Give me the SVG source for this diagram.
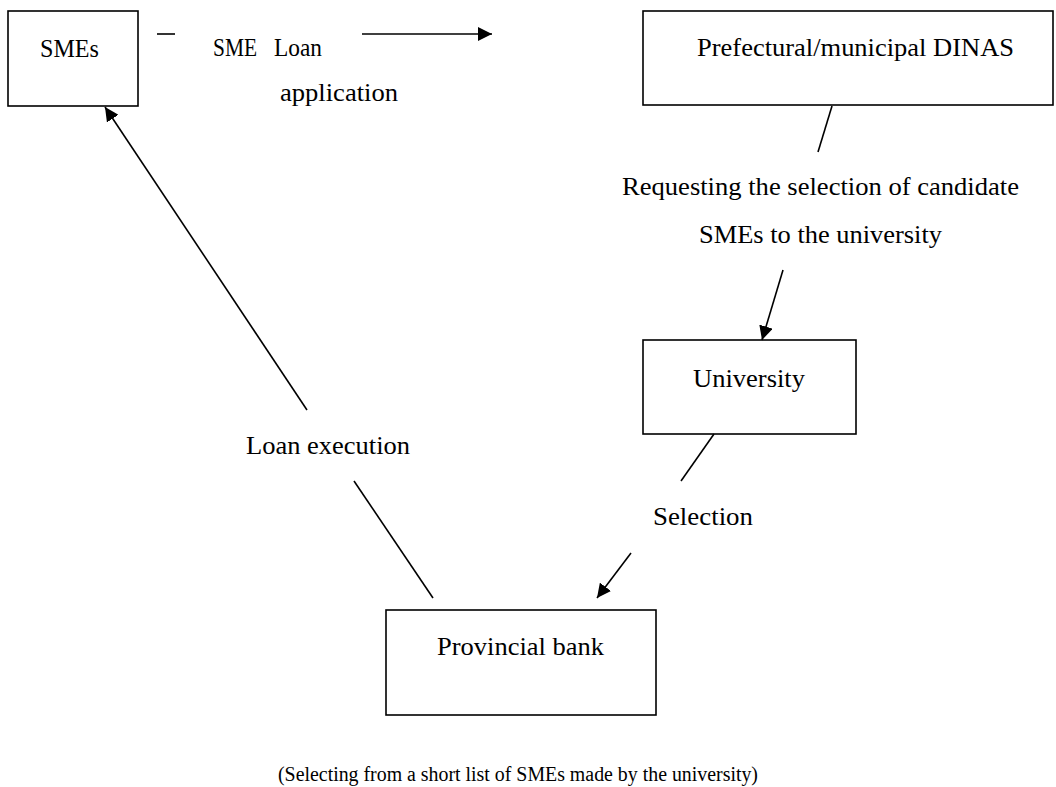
<svg xmlns="http://www.w3.org/2000/svg" width="1056" height="787" viewBox="0 0 1056 787">
  <style>
    .box { fill: #fff; stroke: #000; stroke-width: 1.6; }
    .lbl { font-family: "Liberation Serif", "Times New Roman", serif; font-size: 26px; fill: #000; }
    .cap { font-family: "Liberation Serif", "Times New Roman", serif; font-size: 20px; fill: #000; }
    .ln { stroke: #000; stroke-width: 1.6; fill: none; }
  </style>
  <defs>
    <marker id="arr" viewBox="0 0 10 10" refX="10" refY="5" markerWidth="14" markerHeight="14" markerUnits="userSpaceOnUse" orient="auto">
      <path d="M0,0 L10,5 L0,10 z" fill="#000"/>
    </marker>
  </defs>
  <rect width="1056" height="787" fill="#fff"/>

  <g id="smes">
    <rect class="box" x="8" y="11" width="130" height="95"/>
    <text class="lbl" x="40" y="57" textLength="59" lengthAdjust="spacingAndGlyphs">SMEs</text>
  </g>

  <g id="dinas">
    <rect class="box" x="643" y="11" width="410" height="94"/>
    <text class="lbl" x="697" y="56" textLength="317" lengthAdjust="spacingAndGlyphs">Prefectural/municipal DINAS</text>
  </g>

  <g id="university">
    <rect class="box" x="643" y="340" width="213" height="94"/>
    <text class="lbl" x="693" y="387" textLength="112" lengthAdjust="spacingAndGlyphs">University</text>
  </g>

  <g id="bank">
    <rect class="box" x="386" y="610" width="270" height="105"/>
    <text class="lbl" x="437" y="655" textLength="167" lengthAdjust="spacingAndGlyphs">Provincial bank</text>
  </g>

  <g id="connectors">
    <!-- SMEs to DINAS: loan application -->
    <line class="ln" x1="157" y1="34" x2="175" y2="34"/>
    <line class="ln" x1="362" y1="34" x2="492" y2="34" marker-end="url(#arr)"/>
    <!-- DINAS to University: request -->
    <line class="ln" x1="832" y1="106" x2="818" y2="152"/>
    <line class="ln" x1="783" y1="270" x2="762" y2="340" marker-end="url(#arr)"/>
    <!-- University to bank: selection -->
    <line class="ln" x1="714" y1="434" x2="681" y2="481"/>
    <line class="ln" x1="631" y1="553" x2="597" y2="598" marker-end="url(#arr)"/>
    <!-- bank to SMEs: loan execution -->
    <line class="ln" x1="433" y1="598" x2="354" y2="481"/>
    <line class="ln" x1="307" y1="410" x2="105" y2="107" marker-end="url(#arr)"/>
  </g>

  <g id="labels">
    <text class="lbl" y="56"><tspan x="213" textLength="44" lengthAdjust="spacingAndGlyphs">SME</tspan><tspan x="274" textLength="48" lengthAdjust="spacingAndGlyphs">Loan</tspan></text>
    <text class="lbl" x="280" y="101" textLength="118" lengthAdjust="spacingAndGlyphs">application</text>
    <text class="lbl" x="622" y="195" textLength="397" lengthAdjust="spacingAndGlyphs">Requesting the selection of candidate</text>
    <text class="lbl" x="699" y="243" textLength="243" lengthAdjust="spacingAndGlyphs">SMEs to the university</text>
    <text class="lbl" x="653" y="525" textLength="100" lengthAdjust="spacingAndGlyphs">Selection</text>
    <text class="lbl" x="246" y="454" textLength="164" lengthAdjust="spacingAndGlyphs">Loan execution</text>
    <text class="cap" x="278" y="781" textLength="480" lengthAdjust="spacingAndGlyphs">(Selecting from a short list of SMEs made by the university)</text>
  </g>
</svg>
